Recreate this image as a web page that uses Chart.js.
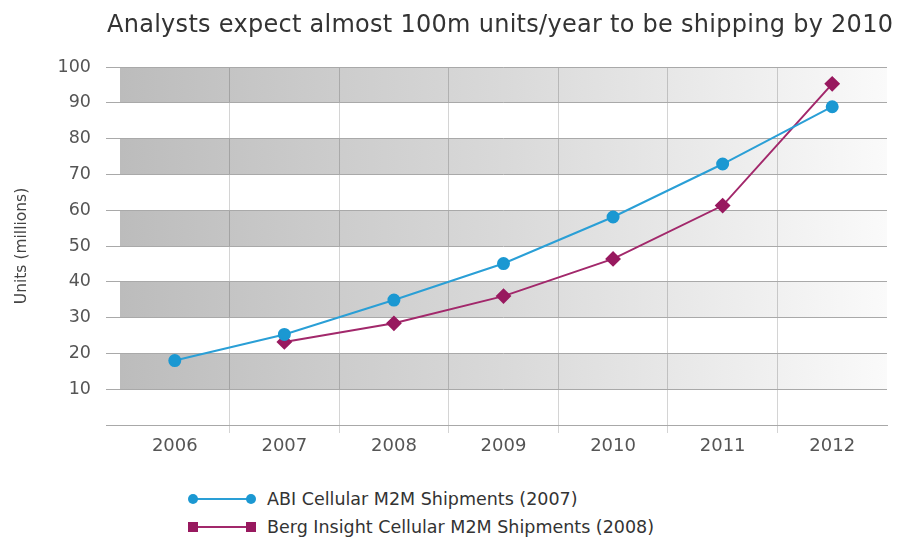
<!DOCTYPE html>
<html>
<head>
<meta charset="utf-8">
<title>M2M shipments forecast</title>
<script src="https://cdn.jsdelivr.net/npm/chart.js@4.4.1/dist/chart.umd.min.js"></script>
<style>
    body { margin: 0; background: #fff; font-family: "DejaVu Sans", sans-serif; }
    #wrap { position: relative; width: 898px; height: 460px; }
    #chartTitle { position: absolute; left: 107px; top: 12px; margin: 0; font-size: 24px; line-height: 24px; letter-spacing: 0.28px; font-weight: normal; color: #333; white-space: nowrap; }
    #legend { position: absolute; left: 188px; top: 485px; }
    .item { height: 28px; display: flex; align-items: center; font-size: 17.5px; color: #333; }
    .sym { position: relative; width: 68px; height: 12px; margin-right: 11px; }
    .sym .ln { position: absolute; left: 5px; right: 5px; top: 5px; height: 2px; }
    .sym .mk { position: absolute; top: 1px; width: 10px; height: 10px; }
</style>
</head>
<body>
<div id="wrap"><canvas id="shipChart"></canvas></div>
<h1 id="chartTitle">Analysts expect almost 100m units/year to be shipping by 2010</h1>
<div id="legend"></div>

<script>
const years = ['2006', '2007', '2008', '2009', '2010', '2011', '2012'];
const abiShipments = [18, 25.3, 34.9, 45.1, 58.1, 72.9, 88.9];
const bergShipments = [null, 23.2, 28.4, 36, 46.4, 61.3, 95.3];
const shadedBands = [[10, 20], [30, 40], [50, 60], [70, 80], [90, 100]];

const abiColor = '#1b98d2';
const bergColor = '#98195f';

// Grey bands behind the lines, fading out towards the right
const bandPlugin = {
    id: 'bands',
    beforeDraw(chart) {
        const { ctx, chartArea, scales } = chart;
        const grad = ctx.createLinearGradient(chartArea.left, 0, chartArea.right, 0);
        grad.addColorStop(0, '#bcbcbc');
        grad.addColorStop(0.5, '#d9d9d9');
        grad.addColorStop(1, '#fafafa');
        ctx.save();
        ctx.fillStyle = grad;
        shadedBands.forEach(([lo, hi]) => {
            const top = scales.y.getPixelForValue(hi);
            const bottom = scales.y.getPixelForValue(lo);
            ctx.fillRect(chartArea.left, top, chartArea.right - chartArea.left, bottom - top);
        });
        ctx.restore();
    }
};

const datasets = [
    {
        label: 'ABI Cellular M2M Shipments (2007)',
        data: abiShipments,
        borderColor: '#2a9fd6',
        backgroundColor: abiColor,
        pointBorderColor: abiColor,
        pointStyle: 'circle',
        pointRadius: 5.5,
        borderWidth: 2
    },
    {
        label: 'Berg Insight Cellular M2M Shipments (2008)',
        data: bergShipments,
        borderColor: '#a2286b',
        backgroundColor: bergColor,
        pointBorderColor: bergColor,
        pointStyle: 'rectRot',
        pointRadius: 6.5,
        borderWidth: 2
    }
];

const ctx = document.getElementById('shipChart').getContext('2d');
const shipChart = new Chart(ctx, {
    type: 'line',
    data: { labels: years, datasets: datasets },
    plugins: [bandPlugin],
    options: {
        responsive: true,
        maintainAspectRatio: false,
        animation: false,
        layout: { padding: { left: 0, right: 11, top: 67, bottom: 0 } },
        plugins: {
            legend: { display: false },
            tooltip: { enabled: false }
        },
        scales: {
            x: {
                offset: true,
                grid: {
                    offset: true,
                    color: c => (c.type === 'tick' && c.index > 0) ? 'rgba(0,0,0,0.17)' : 'rgba(0,0,0,0)',
                    tickLength: 8
                },
                border: { display: true, color: '#a8a8a8' },
                ticks: { color: '#555', padding: 3, font: { family: 'DejaVu Sans', size: 18 } },
                afterFit(scale) { scale.height = 35; }
            },
            y: {
                min: 0,
                max: 100,
                grid: { color: '#a9a9a9', tickLength: 14 },
                border: { display: false },
                ticks: {
                    stepSize: 10,
                    padding: 15,
                    color: '#555',
                    font: { family: 'DejaVu Sans', size: 17.5 },
                    callback: v => v === 0 ? '' : v
                },
                title: {
                    display: true,
                    text: 'Units (millions)',
                    color: '#444',
                    font: { family: 'DejaVu Sans', size: 15.5, lineHeight: 1.2 },
                    padding: { top: 13 }
                },
                afterFit(scale) { scale.width = 120; }
            }
        }
    }
});

// Legend: marker - line - marker, then the series name
function buildLegend() {
    const legend = document.getElementById('legend');
    legend.innerHTML = '';
    datasets.forEach(ds => {
        const round = ds.pointStyle === 'circle' ? '50%' : '0';
        const item = document.createElement('div');
        item.className = 'item';
        item.innerHTML = `
            <span class="sym">
                <span class="ln" style="background:${ds.borderColor}"></span>
                <span class="mk" style="left:0;background:${ds.backgroundColor};border-radius:${round}"></span>
                <span class="mk" style="right:0;background:${ds.backgroundColor};border-radius:${round}"></span>
            </span>
            <span>${ds.label}</span>
        `;
        legend.appendChild(item);
    });
}

buildLegend();
</script>
</body>
</html>
